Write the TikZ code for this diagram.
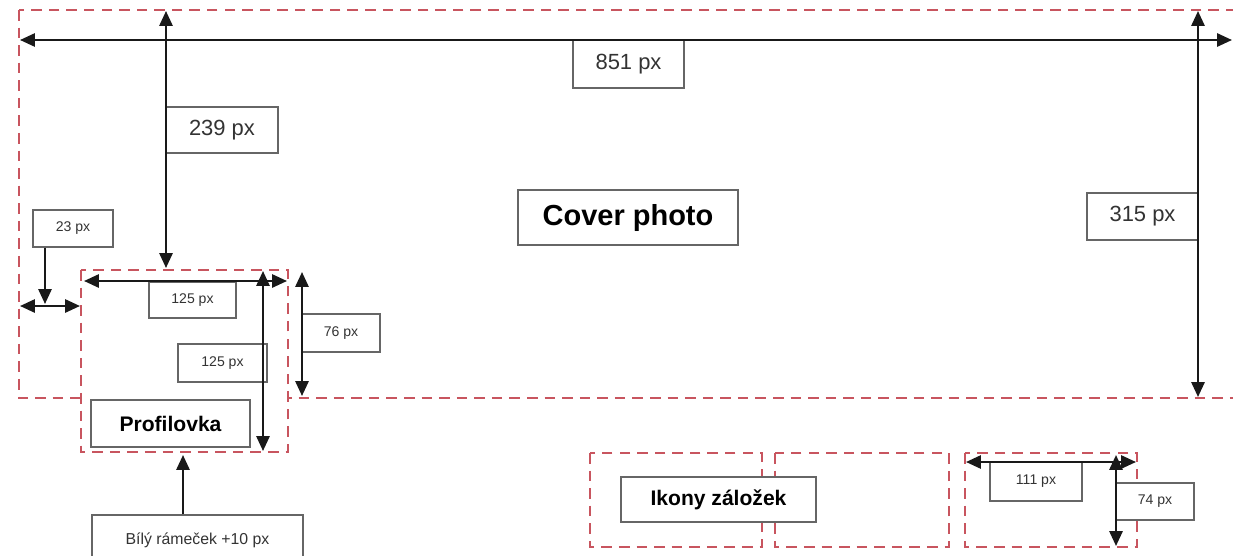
\documentclass[tikz,border=0pt]{standalone}
\usepackage{fontspec}
\setmainfont{Liberation Sans}
\usetikzlibrary{arrows.meta}
\definecolor{framered}{RGB}{200,85,95}
\newcommand{\pxu}{0.02cm}

\begin{document}
\begin{tikzpicture}[x=\pxu, y=-\pxu, >={Triangle[length=8.5pt,width=7.5pt]},
  frame/.style={draw=framered, line width=1.6pt, dash pattern=on 6pt off 4pt},
  dim/.style={draw=black!90, line width=1.3pt},
  lbl/.style={draw=black!60, line width=0.8pt, fill=white, inner sep=0pt, text=black!80},
  big/.style={font=\fontsize{12.5}{15}\selectfont},
  small/.style={font=\fontsize{8}{10}\selectfont},
  title/.style={font=\fontsize{12}{14}\selectfont\bfseries, text=black}]
  \useasboundingbox (0,0) rectangle (1233,555);
  \clip (0,0) rectangle (1233,555);
  \fill[white] (0,0) rectangle (1233,555);

  \draw[frame] (19,10) rectangle (1250,398);
  \draw[frame, fill=white] (81,270) rectangle (288,452);
  \foreach \l/\r in {590/762, 775/949, 965/1137} {
    \draw[frame] (\l,453) rectangle (\r,547);
  }

  \node[lbl, big, minimum width=111*\pxu, minimum height=48*\pxu] (l851) at (628.5,64) {851 px};
  \node[lbl, big, minimum width=112*\pxu, minimum height=46*\pxu] (l239) at (222,130) {239 px};
  \node[lbl, big, minimum width=111*\pxu, minimum height=47*\pxu] (l315) at (1142.5,216.5) {315 px};
  \node[lbl, title, font=\fontsize{16.5}{19}\selectfont\bfseries,
        minimum width=220*\pxu, minimum height=55*\pxu] (cover) at (628,217.5) {Cover photo};
  \node[lbl, small, minimum width=80*\pxu, minimum height=37*\pxu] (l23) at (73,228.5) {23 px};
  \node[lbl, small, minimum width=87*\pxu, minimum height=36*\pxu] (l125a) at (192.5,300) {125 px};
  \node[lbl, small, minimum width=89*\pxu, minimum height=38*\pxu] (l125b) at (222.5,363) {125 px};
  \node[lbl, small, minimum width=78*\pxu, minimum height=38*\pxu] (l76) at (341,333) {76 px};
  \node[lbl, title, minimum width=159*\pxu, minimum height=47*\pxu] (profil) at (170.5,423.5) {Profilovka};
  \node[lbl, font=\fontsize{9}{11}\selectfont, minimum width=211*\pxu, minimum height=50*\pxu] (bily) at (197.5,540) {Bílý rámeček +10 px};
  \node[lbl, title, minimum width=195*\pxu, minimum height=45*\pxu] (ikony) at (718.5,499.5) {Ikony záložek};
  \node[lbl, small, minimum width=92*\pxu, minimum height=39*\pxu] (l111) at (1036,481.5) {111 px};
  \node[lbl, small, minimum width=78*\pxu, minimum height=37*\pxu] (l74) at (1155,501.5) {74 px};

  \foreach \n/\x/\y in {w1/20/40, w2/1232/40, t1/166/11, t2/166/268, r1/1198/11, r2/1198/397,
                        m1/20/306, m2/80/306, p1/84/281, p2/287/281, q1/263/271, q2/263/451,
                        s1/302/272, s2/302/396, k1/966/462, k2/1136/462, v1/1116/455, v2/1116/546,
                        m0/45/304, b0/183/455}
    \coordinate (\n) at (\x,\y);

  \foreach \a/\b in {w1/w2, t1/t2, r1/r2, m1/m2, p1/p2, q1/q2, s1/s2, k1/k2, v1/v2}
    \draw[dim, <->] (\a) -- (\b);
  \draw[dim, ->] (l23.south -| m0) -- (m0);
  \draw[dim, ->] (bily.north -| b0) -- (b0);
\end{tikzpicture}
\end{document}
